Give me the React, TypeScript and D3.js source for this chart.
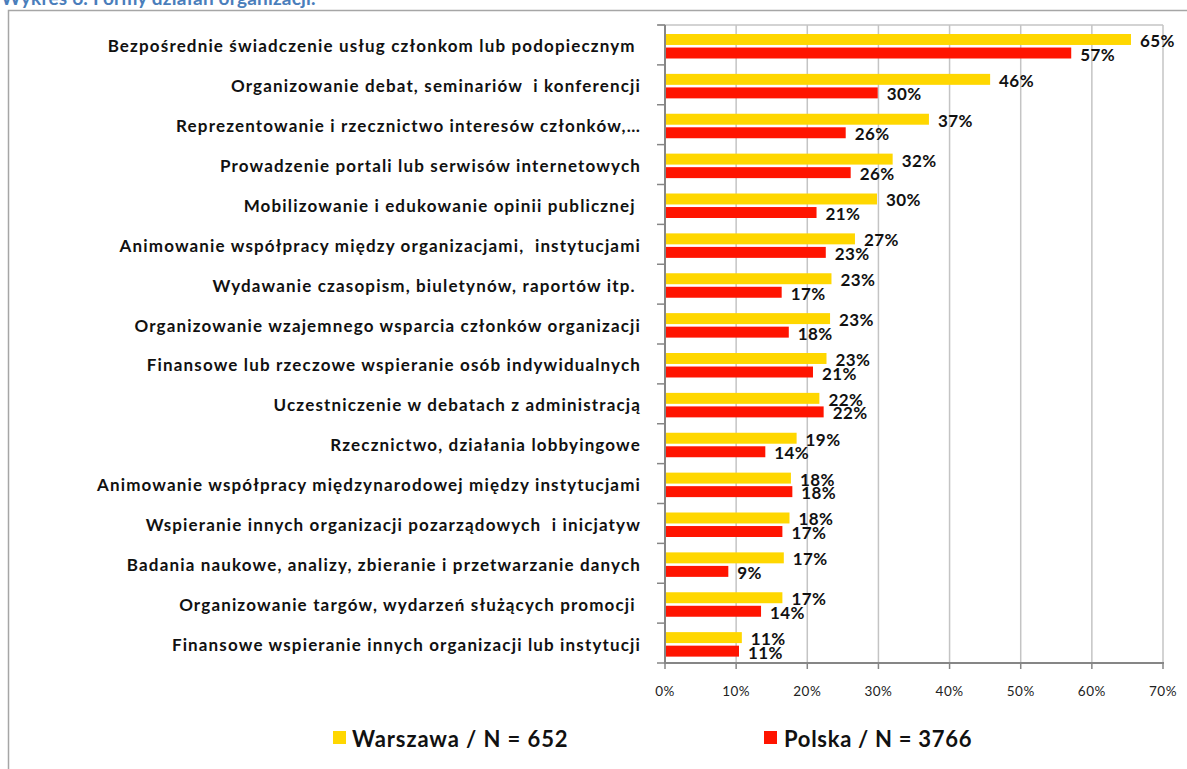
import React from "react";
import * as d3 from "d3";

const categories: string[] = [
  "Bezpośrednie świadczenie usług członkom lub podopiecznym ",
  "Organizowanie debat, seminariów  i konferencji",
  "Reprezentowanie i rzecznictwo interesów członków,…",
  "Prowadzenie portali lub serwisów internetowych",
  "Mobilizowanie i edukowanie opinii publicznej ",
  "Animowanie współpracy między organizacjami,  instytucjami",
  "Wydawanie czasopism, biuletynów, raportów itp. ",
  "Organizowanie wzajemnego wsparcia członków organizacji",
  "Finansowe lub rzeczowe wspieranie osób indywidualnych",
  "Uczestniczenie w debatach z administracją",
  "Rzecznictwo, działania lobbyingowe",
  "Animowanie współpracy międzynarodowej między instytucjami",
  "Wspieranie innych organizacji pozarządowych  i inicjatyw",
  "Badania naukowe, analizy, zbieranie i przetwarzanie danych",
  "Organizowanie targów, wydarzeń służących promocji ",
  "Finansowe wspieranie innych organizacji lub instytucji",
];

const warszawa: number[] = [65.5, 45.7, 37.1, 32.0, 29.8, 26.7, 23.4, 23.2, 22.7, 21.7, 18.5, 17.7, 17.5, 16.7, 16.5, 10.8];
const polska: number[] = [57.1, 29.9, 25.4, 26.1, 21.3, 22.6, 16.4, 17.4, 20.8, 22.3, 14.1, 17.9, 16.5, 8.9, 13.5, 10.4];
const warszawaLabels: string[] = ["65%", "46%", "37%", "32%", "30%", "27%", "23%", "23%", "23%", "22%", "19%", "18%", "18%", "17%", "17%", "11%"];
const polskaLabels: string[] = ["57%", "30%", "26%", "26%", "21%", "23%", "17%", "18%", "21%", "22%", "14%", "18%", "17%", "9%", "14%", "11%"];
const xTicks: number[] = [0, 10, 20, 30, 40, 50, 60, 70];
const seriesNames: string[] = ["Warszawa / N = 652", "Polska / N = 3766"];
const title = "Wykres 6. Formy działań organizacji.";

const YELLOW = "#ffd700";
const RED = "#ff1400";
const FONT = "Lato, 'Open Sans', sans-serif";

export default function App() {
  const W = 1187, H = 769;
  const x = d3.scaleLinear().domain([0, 70]).range([665, 1163]);
  const y = d3.scaleBand<number>().domain(d3.range(categories.length)).range([25, 663]).padding(0);
  const inner = d3.scaleBand<string>().domain(["w", "p"]).range([9, 33.5]).paddingInner(0.19);
  const bw = inner.bandwidth();
  const bounds = d3.range(categories.length + 1).map((i) => 25 + i * y.step());

  return (
    <svg width={W} height={H} style={{ position: "absolute", left: 0, top: 0, background: "#fff" }} fontFamily={FONT}>
      <text x={1} y={5} fill="#4a7ebb" fontWeight="bold" fontSize={19} letterSpacing={0.2}>{title}</text>
      <rect x={8.5} y={10.5} width={1300} height={900} fill="none" stroke="#a6a6a6" strokeWidth={1.5} />
      {/* grid */}
      {xTicks.slice(1).map((t) => (
        <line key={t} x1={x(t)} x2={x(t)} y1={25} y2={663} stroke="#c4c4c4" strokeWidth={1.5} />
      ))}
      <line x1={658} x2={x(70)} y1={25} y2={25} stroke="#c4c4c4" strokeWidth={1.5} />
      {/* bars */}
      {categories.map((c, i) => {
        const y0 = y(i)!;
        return (
          <g key={i}>
            <rect x={x(0)} y={y0 + inner("w")!} width={x(warszawa[i]) - x(0)} height={bw} fill={YELLOW} />
            <rect x={x(0)} y={y0 + inner("p")!} width={x(polska[i]) - x(0)} height={bw} fill={RED} />
            <text x={x(warszawa[i]) + 9} y={y0 + inner("w")! + bw / 2 + 1} dominantBaseline="central" fontWeight="bold" fontSize={17} letterSpacing={0.4} fill="#111">{warszawaLabels[i]}</text>
            <text x={x(polska[i]) + 9} y={y0 + inner("p")! + bw / 2 + 1} dominantBaseline="central" fontWeight="bold" fontSize={17} letterSpacing={0.4} fill="#111">{polskaLabels[i]}</text>
            <text x={641} y={y0 + y.bandwidth() / 2 + 1} textAnchor="end" dominantBaseline="central" fontWeight="bold" fontSize={17} letterSpacing={1.15} fill="#111" style={{ whiteSpace: "pre" }}>{c}</text>
          </g>
        );
      })}
      {/* axes */}
      <line x1={x(0)} x2={x(0)} y1={25} y2={664} stroke="#868686" strokeWidth={2} />
      <line x1={x(0)} x2={x(70) + 1} y1={663} y2={663} stroke="#868686" strokeWidth={2} />
      {bounds.map((b, i) => (
        <line key={i} x1={657} x2={x(0)} y1={b} y2={b} stroke="#868686" strokeWidth={1.5} />
      ))}
      {xTicks.map((t) => (
        <g key={t}>
          <line x1={x(t)} x2={x(t)} y1={663} y2={669} stroke="#868686" strokeWidth={1.5} />
          <text x={x(t)} y={691} textAnchor="middle" dominantBaseline="central" fontSize={13.5} letterSpacing={0.5} fill="#222">{t + "%"}</text>
        </g>
      ))}
      {/* legend */}
      <rect x={333} y={731} width={13} height={13} fill={YELLOW} />
      <text x={352} y={738} dominantBaseline="central" fontWeight="bold" fontSize={22} letterSpacing={0.9} fill="#111">{seriesNames[0]}</text>
      <rect x={764} y={731} width={13} height={13} fill={RED} />
      <text x={784} y={738} dominantBaseline="central" fontWeight="bold" fontSize={22} letterSpacing={0.7} fill="#111">{seriesNames[1]}</text>
    </svg>
  );
}
